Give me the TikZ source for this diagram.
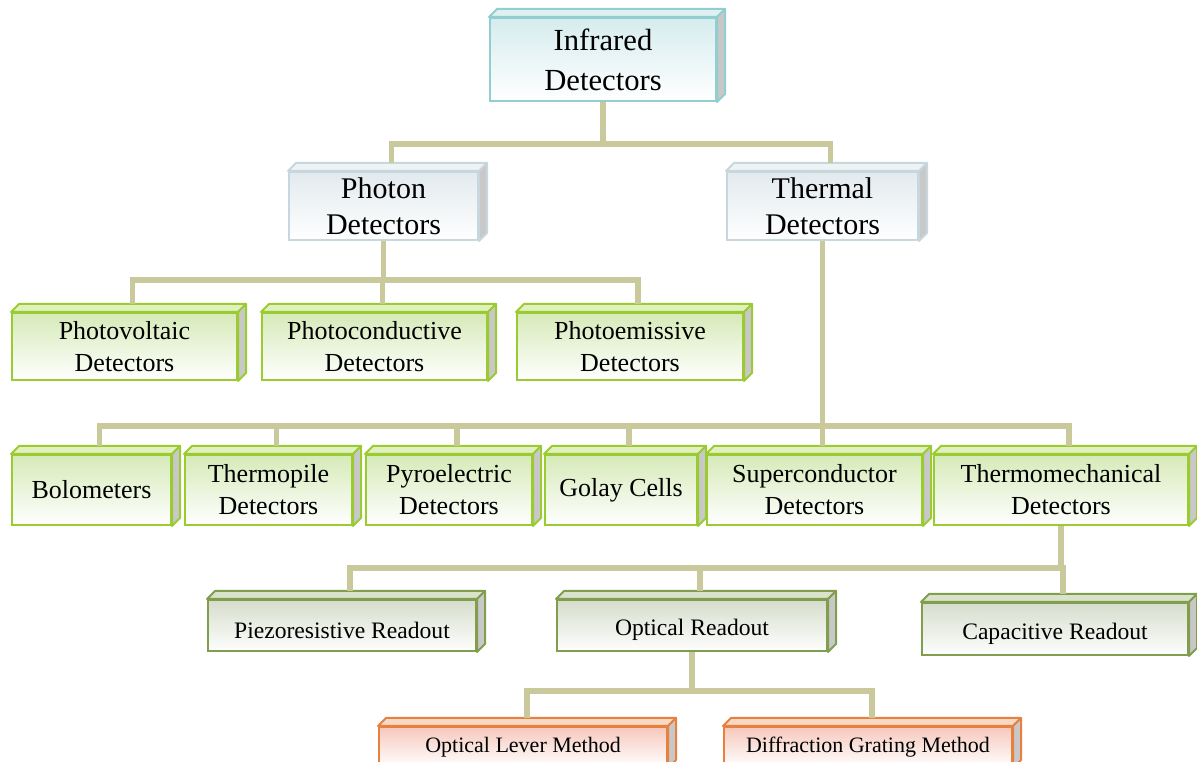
\documentclass[tikz,border=0pt]{standalone}
\usepackage{fontspec}
\setmainfont{Liberation Serif}

\definecolor{irline}{RGB}{146,205,208}
\definecolor{irtop}{RGB}{214,236,238}
\definecolor{phline}{RGB}{200,214,222}
\definecolor{phtop}{RGB}{226,234,238}
\definecolor{grline}{RGB}{154,204,50}
\definecolor{grtop}{RGB}{214,234,184}
\definecolor{rdline}{RGB}{128,158,78}
\definecolor{rdtop}{RGB}{214,221,204}
\definecolor{mtline}{RGB}{232,128,64}
\definecolor{mttop}{RGB}{246,200,188}
\definecolor{linkcol}{RGB}{201,201,156}
\definecolor{sidegray}{RGB}{200,200,200}

\tikzset{every picture/.style={line width=0.75pt}}

\begin{document}
\begin{tikzpicture}[x=0.75pt,y=0.75pt,yscale=-1,xscale=1,
  box/.style={draw, line width=1.5, inner sep=0pt, align=center},
  lvlzero/.style={box, draw=irline, top color=irtop, bottom color=white, font=\fontsize{23}{30}\selectfont},
  lvlone/.style={box, draw=phline, top color=phtop, bottom color=white, font=\fontsize{22.5}{27}\selectfont},
  lvltwo/.style={box, draw=grline, top color=grtop, bottom color=white, font=\fontsize{19.5}{24}\selectfont},
  lvlread/.style={box, draw=rdline, top color=rdtop, bottom color=white!97!rdtop, text height=19pt, font=\fontsize{17.7}{21}\selectfont},
  lvlmeth/.style={box, draw=mtline, top color=mttop, bottom color=white, font=\fontsize{16.5}{20}\selectfont},
  link/.style={draw=linkcol, line width=4}]
	\useasboundingbox (0,0) rectangle (1197,762);
	\clip (0,0) rectangle (1197,762);
	
	% Root
	\node [lvlzero, minimum width=169.5pt, minimum height=62.25pt] (ir) at (603,59.5) {Infrared\\Detectors};
	% Photon / Thermal
	\node [lvlone, minimum width=141.75pt, minimum height=51pt] (photon) at (383.5,206) {Photon\\Detectors};
	\node [lvlone, minimum width=143.25pt, minimum height=51pt] (thermal) at (822.5,206) {Thermal\\Detectors};
	% Photon detector types
	\node [lvltwo, minimum width=168.75pt, minimum height=50.25pt] (pv) at (124.5,346.5) {Photovoltaic\\Detectors};
	\node [lvltwo, minimum width=168.75pt, minimum height=50.25pt] (pc) at (374.5,346.5) {Photoconductive\\Detectors};
	\node [lvltwo, minimum width=169.5pt, minimum height=50.25pt] (pe) at (630,346.5) {Photoemissive\\Detectors};
	% Thermal detector types
	\node [lvltwo, minimum width=119.25pt, minimum height=52.5pt] (bolo) at (91.5,490) {Bolometers};
	\node [lvltwo, minimum width=125.25pt, minimum height=52.5pt] (tpile) at (268.5,490) {Thermopile\\Detectors};
	\node [lvltwo, minimum width=124.5pt, minimum height=52.5pt] (pyro) at (449,490) {Pyroelectric\\Detectors};
	\node [lvltwo, minimum width=114pt, minimum height=52.5pt] (golay) at (621,490) {Golay Cells};
	\node [lvltwo, minimum width=161.25pt, minimum height=52.5pt] (supc) at (814.5,490) {Superconductor\\Detectors};
	\node [lvltwo, minimum width=190.5pt, minimum height=52.5pt] (tmech) at (1061,490) {Thermomechanical\\Detectors};
	% Readouts
	\node [lvlread, minimum width=201pt, minimum height=38.25pt] (piezo) at (342,625.5) {Piezoresistive Readout};
	\node [lvlread, minimum width=202.5pt, minimum height=38.25pt] (optro) at (692,625.5) {Optical Readout};
	\node [lvlread, minimum width=199.5pt, minimum height=39pt] (capro) at (1055,629) {Capacitive Readout};
	% Optical methods
	\node [lvlmeth, minimum width=216pt, minimum height=30pt, anchor=north] (olever) at (523,726) {Optical Lever Method};
	\node [lvlmeth, minimum width=216pt, minimum height=30pt, anchor=north] (dgrat) at (868,726) {Diffraction Grating Method};
	
	% 3D faces
	\foreach \n/\c in {ir/irline,photon/phline,thermal/phline,pv/grline,pc/grline,pe/grline,bolo/grline,tpile/grline,pyro/grline,golay/grline,supc/grline,tmech/grline,piezo/rdline,optro/rdline,capro/rdline,olever/mtline,dgrat/mtline}{
		\draw [\c, line width=1.5, fill=\c!30!white, line join=round] (\n.north west) -- ++(8,-8) -- ([shift={(8,-8)}]\n.north east) -- (\n.north east) -- cycle;
		\draw [\c, line width=1.5, fill=sidegray, line join=round] (\n.north east) -- ++(8,-8) -- ([shift={(8,-8)}]\n.south east) -- (\n.south east) -- cycle;
	}
	
	% Connectors
	\draw [link] (ir.south) -- ++(0,42) -| ([shift={(8,-8)}]photon.north);
	\draw [link] (ir.south) -- ++(0,42) -| ([shift={(8,-8)}]thermal.north);
	\draw [link] (photon.south) -- ++(0,39) -| ([shift={(8,-8)}]pv.north);
	\draw [link] (photon.south) -- ++(0,39) -| ([shift={(8,-8)}]pc.north);
	\draw [link] (photon.south) -- ++(0,39) -| ([shift={(8,-8)}]pe.north);
	\draw [link] (thermal.south) -- ++(0,185) -| ([shift={(8,-8)}]bolo.north);
	\draw [link] (thermal.south) -- ++(0,185) -| ([shift={(8,-8)}]tpile.north);
	\draw [link] (thermal.south) -- ++(0,185) -| ([shift={(8,-8)}]pyro.north);
	\draw [link] (thermal.south) -- ++(0,185) -| ([shift={(8,-8)}]golay.north);
	\draw [link] (thermal.south) -- ([shift={(8,-8)}]supc.north);
	\draw [link] (thermal.south) -- ++(0,185) -| ([shift={(8,-8)}]tmech.north);
	\draw [link] (tmech.south) -- ++(0,42) -| ([shift={(8,-8)}]piezo.north);
	\draw [link] (tmech.south) -- ++(0,42) -| ([shift={(8,-8)}]optro.north);
	\draw [link] (tmech.south) -- ++(0,42) -| ([shift={(8,-8)}]capro.north);
	\draw [link] (optro.south) -- ++(0,39) -| ([shift={(4,-8)}]olever.north);
	\draw [link] (optro.south) -- ++(0,39) -| ([shift={(4,-8)}]dgrat.north);
	
\end{tikzpicture}
\end{document}
